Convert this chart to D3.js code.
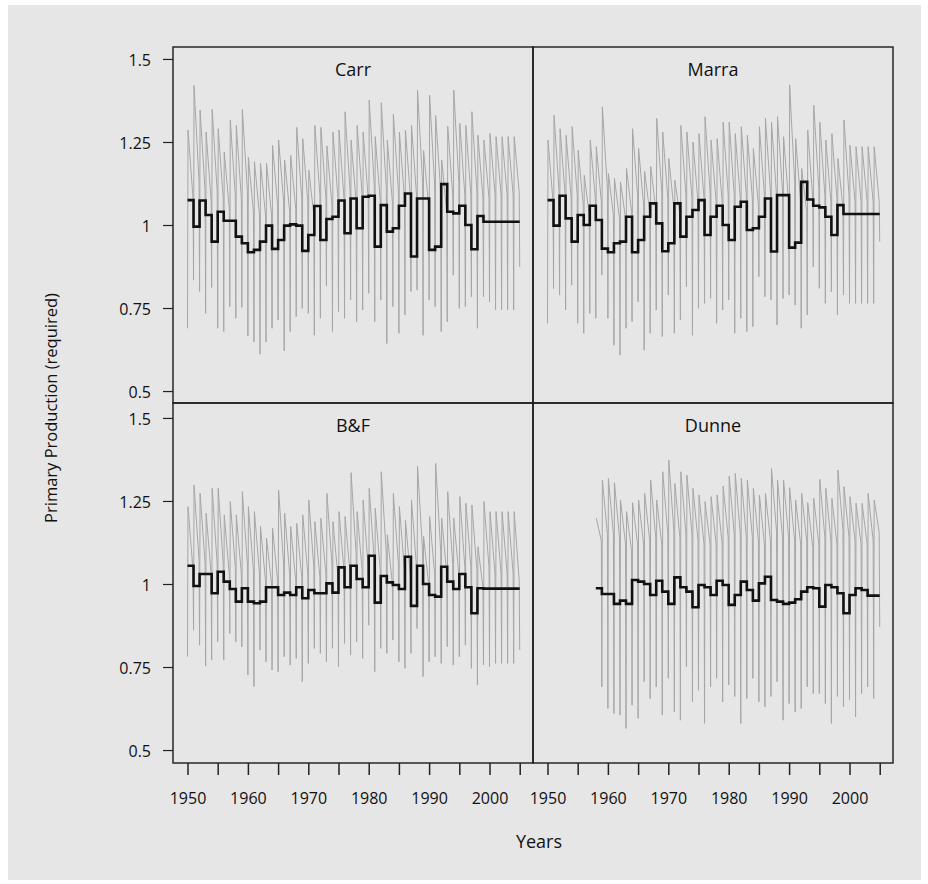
<!DOCTYPE html>
<html><head><meta charset="utf-8">
<script src="https://cdn.jsdelivr.net/npm/d3@7"></script>
<style>body{margin:0;background:#fff} text{font-family:"Open Sans",sans-serif}</style>
</head><body><svg id="c" width="928" height="884"></svg>
<script>
// ---------------- data ----------------
const yTicks = [0.5, 0.75, 1, 1.25, 1.5];
const xTicks = [1950,1955,1960,1965,1970,1975,1980,1985,1990,1995,2000,2005];
const xLabels = [1950,1960,1970,1980,1990,2000];
const lastYear = 2005;

// Carr (1950-2004 means/peaks/ends; lows 1950-2005)
const carrMean = [1.075,0.995,1.074,1.03,0.95,1.04,1.013,1.013,0.965,0.945,
  0.918,0.925,0.95,0.998,0.928,0.955,0.998,1.002,0.998,0.922,
  0.97,1.057,0.955,1.018,1.025,1.074,0.975,1.08,0.99,1.085,
  1.088,0.935,1.06,0.98,0.99,1.058,1.095,0.905,1.08,1.08,
  0.925,0.935,1.123,1.04,1.035,1.058,1.0,0.927,1.027,1.01,
  1.01,1.01,1.01,1.01,1.01];
const carrPeak = [1.286,1.42,1.346,1.28,1.348,1.29,1.22,1.316,1.3,1.348,
  1.204,1.191,1.186,1.186,1.24,1.256,1.196,1.21,1.294,1.26,
  1.165,1.3,1.294,1.238,1.28,1.286,1.341,1.256,1.3,1.28,
  1.376,1.266,1.368,1.256,1.334,1.28,1.286,1.3,1.406,1.224,
  1.391,1.33,1.196,1.297,1.406,1.306,1.3,1.341,1.27,1.256,
  1.276,1.266,1.266,1.266,1.266];
const carrEnd = [1.08,1.13,1.1,1.07,1.1,1.08,1.05,1.09,1.08,1.1,
  1.04,1.03,1.03,1.03,1.06,1.07,1.04,1.05,1.08,1.07,
  1.03,1.09,1.08,1.06,1.08,1.08,1.1,1.07,1.09,1.08,
  1.12,1.07,1.11,1.07,1.1,1.08,1.08,1.09,1.13,1.06,
  1.12,1.1,1.04,1.09,1.13,1.09,1.09,1.1,1.08,1.08,
  1.09,1.09,1.09,1.09,1.1];
const carrLow = [0.689,0.834,0.8,0.734,0.812,0.689,0.679,0.754,0.719,0.752,
  0.666,0.648,0.611,0.648,0.689,0.714,0.621,0.679,0.724,0.749,
  0.734,0.668,0.719,0.816,0.679,0.739,0.719,0.774,0.709,0.744,
  0.794,0.709,0.774,0.643,0.754,0.674,0.729,0.8,0.804,0.668,
  0.774,0.754,0.679,0.709,0.849,0.749,0.754,0.784,0.689,0.784,
  0.769,0.744,0.744,0.744,0.744,0.874];

// Marra
const marraMean = [1.075,0.998,1.088,1.02,0.95,1.03,1.0,1.058,1.015,0.929,
  0.918,0.945,0.95,1.025,0.918,0.955,1.025,1.065,1.005,0.921,
  0.945,1.065,0.965,1.025,1.045,1.075,0.97,1.025,1.058,1.0,
  0.955,1.055,1.07,0.985,0.99,1.025,1.08,0.92,1.09,1.09,
  0.932,0.947,1.13,1.077,1.058,1.053,1.025,0.97,1.06,1.033,
  1.033,1.033,1.033,1.033,1.033];
const marraPeak = [1.256,1.331,1.29,1.27,1.296,1.225,1.15,1.256,1.236,1.356,
  1.155,1.14,1.13,1.17,1.29,1.23,1.161,1.176,1.321,1.28,
  1.2,1.135,1.3,1.28,1.25,1.275,1.326,1.256,1.26,1.31,
  1.31,1.275,1.296,1.27,1.23,1.296,1.321,1.31,1.326,1.266,
  1.422,1.26,1.17,1.286,1.361,1.31,1.256,1.275,1.2,1.316,
  1.24,1.236,1.236,1.236,1.236];
const marraEnd = [1.07,1.1,1.09,1.08,1.09,1.06,1.03,1.08,1.07,1.11,
  1.03,1.02,1.02,1.04,1.09,1.06,1.04,1.05,1.1,1.08,
  1.05,1.03,1.09,1.08,1.07,1.08,1.1,1.07,1.07,1.09,
  1.09,1.08,1.09,1.08,1.06,1.09,1.1,1.09,1.1,1.07,
  1.13,1.07,1.04,1.08,1.11,1.09,1.07,1.08,1.05,1.09,
  1.07,1.07,1.07,1.07,1.07];
const marraLow = [0.704,0.809,0.789,0.744,0.819,0.704,0.674,0.734,0.719,0.849,
  0.719,0.638,0.608,0.689,0.709,0.769,0.623,0.674,0.744,0.664,
  0.789,0.674,0.714,0.814,0.668,0.749,0.764,0.779,0.704,0.744,
  0.774,0.674,0.719,0.679,0.694,0.844,0.784,0.774,0.699,0.779,
  0.789,0.759,0.689,0.729,0.874,0.809,0.764,0.799,0.729,0.789,
  0.764,0.764,0.764,0.764,0.764,0.95];

// B&F
const bfMean = [1.055,0.994,1.03,1.03,0.972,1.037,1.007,0.985,0.947,0.987,
  0.947,0.942,0.947,0.99,0.99,0.967,0.974,0.967,0.99,0.957,
  0.982,0.972,0.972,1.002,0.974,1.05,0.99,1.055,1.015,0.99,
  1.085,0.944,1.024,1.005,0.997,0.985,1.082,0.934,1.055,1.0,
  0.967,0.962,1.052,1.007,0.985,1.03,0.99,0.912,0.987,0.986,
  0.986,0.986,0.986,0.986,0.986];
const bfPeak = [1.233,1.298,1.273,1.213,1.288,1.288,1.208,1.248,1.208,1.278,
  1.233,1.218,1.173,1.138,1.168,1.283,1.213,1.173,1.183,1.208,
  1.253,1.188,1.198,1.273,1.188,1.218,1.203,1.335,1.218,1.253,
  1.288,1.228,1.338,1.148,1.273,1.233,1.193,1.253,1.355,1.143,
  1.203,1.363,1.198,1.278,1.198,1.263,1.243,1.238,1.112,1.248,
  1.218,1.218,1.218,1.218,1.218];
const bfEnd = [1.04,1.07,1.06,1.03,1.06,1.06,1.03,1.05,1.03,1.06,
  1.04,1.03,1.01,1.0,1.01,1.06,1.03,1.01,1.02,1.03,
  1.05,1.02,1.03,1.06,1.02,1.04,1.03,1.09,1.04,1.05,
  1.07,1.04,1.09,1.0,1.06,1.04,1.02,1.05,1.1,1.0,
  1.03,1.1,1.03,1.06,1.03,1.05,1.05,1.04,0.99,1.05,
  1.03,1.03,1.03,1.03,1.01];
const bfLow = [0.781,0.861,0.816,0.753,0.771,0.826,0.771,0.851,0.826,0.811,
  0.726,0.691,0.801,0.766,0.741,0.736,0.781,0.756,0.776,0.706,
  0.761,0.806,0.791,0.766,0.806,0.751,0.821,0.786,0.826,0.776,
  0.876,0.736,0.806,0.791,0.831,0.766,0.746,0.791,0.866,0.721,
  0.766,0.781,0.761,0.811,0.756,0.781,0.816,0.746,0.696,0.756,
  0.751,0.761,0.761,0.761,0.761,0.801];

// Dunne (starts 1958)
const dunneMean = [0.987,0.97,0.97,0.94,0.95,0.94,1.012,1.007,1.0,0.967,
  1.01,0.977,0.94,1.02,0.99,0.977,0.93,0.997,0.99,0.967,
  1.01,0.997,0.937,0.967,1.007,0.982,0.95,1.002,1.022,0.952,
  0.947,0.94,0.944,0.954,0.977,0.99,0.987,0.932,0.997,0.99,
  0.972,0.912,0.967,0.987,0.982,0.965,0.965];
const dunnePeak = [1.198,1.313,1.318,1.305,1.253,1.218,1.245,1.253,1.273,1.313,
  1.253,1.338,1.373,1.303,1.338,1.328,1.288,1.268,1.248,1.263,
  1.268,1.295,1.325,1.333,1.318,1.313,1.288,1.268,1.273,1.348,
  1.313,1.313,1.29,1.253,1.273,1.245,1.258,1.315,1.288,1.258,
  1.343,1.293,1.263,1.243,1.243,1.273,1.253];
const dunneEnd = [1.13,1.15,1.15,1.14,1.12,1.1,1.12,1.12,1.13,1.14,
  1.12,1.15,1.16,1.14,1.15,1.15,1.13,1.12,1.12,1.12,
  1.12,1.14,1.15,1.15,1.14,1.14,1.13,1.12,1.13,1.16,
  1.14,1.14,1.13,1.12,1.13,1.11,1.12,1.14,1.13,1.12,
  1.16,1.14,1.13,1.12,1.12,1.13,1.155];
const dunneLow = [null,0.69,0.625,0.61,0.605,0.565,0.635,0.595,0.706,0.655,
  0.69,0.605,0.716,0.615,0.59,0.751,0.645,0.68,0.58,0.69,
  0.716,0.645,0.696,0.661,0.58,0.655,0.716,0.645,0.63,0.661,
  0.706,0.59,0.64,0.615,0.625,0.69,0.67,0.67,0.64,0.58,
  0.661,0.63,0.651,0.6,0.67,0.69,0.655,0.871];

// ---------------- drawing ----------------
const svg = d3.select("#c");
svg.append("rect").attr("x",8).attr("y",5).attr("width",913).attr("height",875).attr("fill","#e6e6e6");

const panels = [
  {name:"Carr",  start:1950, mean:carrMean,  peak:carrPeak,  end:carrEnd,  low:carrLow,  col:0, row:0},
  {name:"Marra", start:1950, mean:marraMean, peak:marraPeak, end:marraEnd, low:marraLow, col:1, row:0},
  {name:"B&F",   start:1950, mean:bfMean,    peak:bfPeak,    end:bfEnd,    low:bfLow,    col:0, row:1},
  {name:"Dunne", start:1958, mean:dunneMean, peak:dunnePeak, end:dunneEnd, low:dunneLow, col:1, row:1}
];
const cols = [[173,533],[533,893]];
const rows = [{range:[403,47], domain:[0.464,1.536]}, {range:[763,403], domain:[0.461,1.545]}];
const xDomain = [1947.6, 2007.2];
const textColor = "#111";

panels.forEach((p, pi) => {
  const x = d3.scaleLinear().domain(xDomain).range(cols[p.col]);
  const y = d3.scaleLinear().domain(rows[p.row].domain).range(rows[p.row].range);
  const [x0, x1] = x.range();
  const [yb, yt] = y.range();
  const g = svg.append("g");
  const cid = "clip" + pi;
  svg.append("clipPath").attr("id", cid).append("rect")
    .attr("x", x0).attr("y", yt).attr("width", x1 - x0).attr("height", yb - yt);
  const plot = g.append("g").attr("clip-path", `url(#${cid})`);

  // gray sawtooth (within-year cycle)
  const pts = [];
  p.mean.forEach((m, i) => {
    const Y = p.start + i;
    if (p.low[i] != null) pts.push([Y, p.low[i]]);
    pts.push([Y + 1/12, p.peak[i]]);
    pts.push([Y + 11/12, p.end[i]]);
  });
  pts.push([lastYear, p.low[p.low.length - 1]]);
  const line = d3.line().x(d => x(d[0])).y(d => y(d[1]));
  plot.append("path").attr("d", line(pts)).attr("fill","none")
    .attr("stroke","#a6a6a6").attr("stroke-width",1);

  // black annual step line
  const steps = p.mean.map((m, i) => [p.start + i, m]);
  steps.push([lastYear, p.mean[p.mean.length - 1]]);
  const sline = d3.line().curve(d3.curveStepAfter).x(d => x(d[0])).y(d => y(d[1]));
  plot.append("path").attr("d", sline(steps)).attr("fill","none")
    .attr("stroke","#111").attr("stroke-width",2.6).attr("stroke-linejoin","miter");

  // frame
  g.append("rect").attr("x", x0).attr("y", yt).attr("width", x1 - x0).attr("height", yb - yt)
    .attr("fill","none").attr("stroke","#1a1a1a").attr("stroke-width",1.4);

  // title
  g.append("text").attr("x", (x0 + x1) / 2).attr("y", yt + 29)
    .attr("text-anchor","middle").attr("font-size",18).attr("fill",textColor).text(p.name);

  if (p.col === 0) {
    const ax = g.append("g").attr("transform", `translate(${x0},0)`)
      .call(d3.axisLeft(y).tickValues(yTicks).tickSize(10).tickPadding(12).tickFormat(d => String(d)));
    ax.select(".domain").remove();
    ax.attr("font-size",16).attr("font-family","Open Sans").attr("color","#222");
    ax.selectAll("text").attr("fill",textColor).attr("dy","0.42em");
    ax.selectAll("line").attr("stroke-width",1.2);
  }
  if (p.row === 1) {
    const ax = g.append("g").attr("transform", `translate(0,${yb})`)
      .call(d3.axisBottom(x).tickValues(xTicks).tickSize(12).tickPadding(18)
        .tickFormat(d => xLabels.includes(d) ? String(d) : ""));
    ax.select(".domain").remove();
    ax.attr("font-size",16).attr("font-family","Open Sans").attr("color","#222");
    ax.selectAll("text").attr("fill",textColor);
    ax.selectAll("line").attr("stroke-width",1.5);
  }
});

svg.append("text").attr("x",539).attr("y",848).attr("text-anchor","middle")
  .attr("font-size",18).attr("fill",textColor).text("Years");
svg.append("text").attr("transform","translate(57,408) rotate(-90)").attr("text-anchor","middle")
  .attr("font-size",16.5).attr("fill",textColor).text("Primary Production (required)");
</script></body></html>
